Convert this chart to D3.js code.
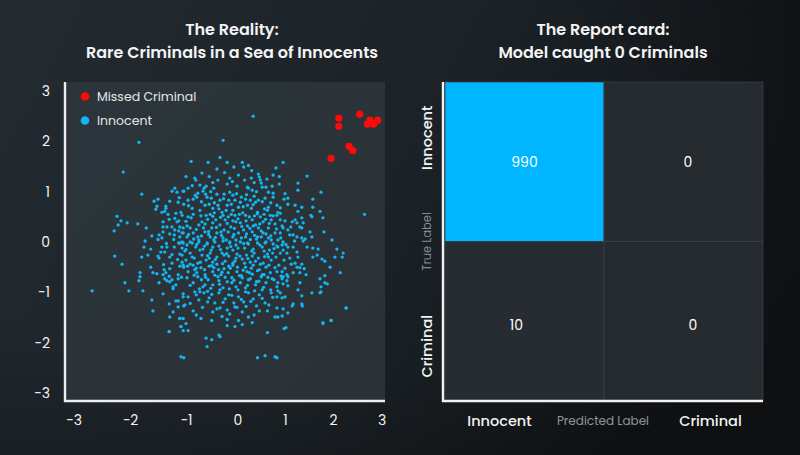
<!DOCTYPE html>
<html>
<head>
<meta charset="utf-8">
<script src="https://cdn.jsdelivr.net/npm/d3@7/dist/d3.min.js"></script>
<style>
  html, body { margin: 0; padding: 0; background: #1b2126; }
  svg { display: block; }
  text { font-family: "Poppins", "Inter", "Open Sans", sans-serif; }
</style>
</head>
<body>
<svg id="chart" width="800" height="455"></svg>
<script>
// ---------------- DATA ----------------
const xTicks = [-3, -2, -1, 0, 1, 2, 3];
const yTicks = [-3, -2, -1, 0, 1, 2, 3];

const leftTitle = ["The Reality:", "Rare Criminals in a Sea of Innocents"];
const rightTitle = ["The Report card:", "Model caught 0 Criminals"];
const legendLabels = ["Missed Criminal", "Innocent"];

// Criminals (red) – [x, y]
const criminals = [
  [2.12, 2.46], [2.12, 2.30], [2.55, 2.54], [2.76, 2.42], [2.71, 2.34],
  [2.84, 2.34], [2.92, 2.42], [2.33, 1.90], [2.41, 1.82], [1.96, 1.66]
];

// Innocents (blue) – [x, y]
const innocents = [
  [-1.84,1.98],[-2.12,1.39],[-1.79,0.95],[-1.25,1.01],[-1.20,1.07],[-1.16,0.99],[-1.05,1.01],
  [-1.57,0.81],[-1.50,0.85],[-1.29,0.81],[-1.14,0.79],[-1.36,0.71],[-1.36,0.67],[-1.38,0.61],
  [-1.52,0.71],[-1.54,0.65],[-1.43,0.59],[-1.32,0.55],[-1.18,0.57],[-1.09,0.59],[-1.04,0.75],
  [-2.23,0.51],[-2.16,0.42],[-2.05,0.38],[-2.21,0.34],[-2.28,0.22],[-1.86,0.36],[-1.71,0.28],
  [-1.41,0.40],[-1.41,0.30],[-1.34,0.30],[-1.25,0.30],[-1.16,0.40],[-1.13,0.42],[-1.11,0.30],
  [-1.20,0.24],[-1.13,0.22],[-1.07,0.18],[-1.11,0.10],[-1.07,0.00],[-1.13,-0.02],[-1.05,0.28],
  [-1.61,0.12],[-1.48,0.14],[-1.41,0.20],[-1.43,0.08],[-1.29,0.16],[-1.73,0.02],[-1.21,0.14],
  [0.33,2.50],[-0.28,2.02],[-0.90,1.60],[-0.57,1.58],[-0.34,1.68],[-0.20,1.58],[-0.07,1.49],
  [0.10,1.58],[0.13,1.49],[0.23,1.52],[0.81,1.47],[-0.69,1.37],[-0.83,1.27],[-0.81,1.23],
  [-0.38,1.23],[-0.15,1.27],[0.15,1.23],[0.29,1.27],[0.44,1.35],[0.46,1.29],[0.48,1.23],
  [0.50,1.17],[0.52,1.09],[0.75,1.33],[-0.01,1.11],[0.21,1.09],[0.23,1.07],[0.60,1.09],
  [0.73,1.11],[0.75,0.97],[0.75,0.89],[-0.61,1.11],[-0.65,1.07],[-0.67,1.01],[-0.96,1.07],
  [-1.04,1.01],[-0.77,0.97],[-0.86,0.85],[-0.79,0.89],[-0.51,0.87],[-0.40,0.95],[-0.34,0.83],
  [-0.26,0.95],[-0.15,0.99],[-0.09,0.93],[0.08,0.89],[0.17,0.85],[0.35,0.91],[0.44,0.83],
  [0.65,0.69],[0.63,0.63],[-0.73,0.63],[-0.63,0.73],[-0.55,0.75],[-0.48,0.67],[-0.38,0.73],
  [-0.30,0.59],[-0.20,0.73],[-0.17,0.83],[-0.09,0.63],[0.02,0.69],[0.06,0.79],[0.21,0.73],
  [0.29,0.67],[0.38,0.79],[0.42,0.59],[0.83,0.73],[0.85,0.59],[-0.86,0.55],[-0.96,0.50],
  [-1.07,0.53],[-0.53,0.55],[-0.48,0.51],[-0.28,0.53],[-0.18,0.50],[-0.05,0.53],[0.17,0.53],
  [0.42,0.56],[0.48,0.50],[0.69,0.53],[-0.98,0.32],[-0.92,0.28],[-0.69,0.40],[-0.63,0.36],
  [-0.48,0.38],[-0.34,0.34],[-0.24,0.44],[-0.09,0.42],[0.06,0.38],[0.21,0.32],[0.31,0.44],
  [0.38,0.34],[0.54,0.40],[0.65,0.28],[0.79,0.36],[-1.05,0.18],[-0.98,0.10],[-0.86,0.18],
  [-0.77,0.10],[-0.63,0.20],[-0.53,0.10],[-0.40,0.18],[-0.28,0.08],[-0.18,0.20],[-0.09,0.10],
  [0.02,0.18],[0.17,0.10],[0.31,0.20],[0.42,0.10],[0.54,0.18],[0.65,0.08],[0.79,0.18],
  [0.85,0.04],[-0.92,0.00],[-0.59,-0.02],[-0.15,0.00],[0.21,-0.02],[0.58,-0.02],
  [0.96,1.58],[1.46,1.31],[0.88,1.15],[1.27,1.17],[1.27,1.03],[1.75,0.99],[0.98,0.85],
  [1.06,0.87],[1.58,0.85],[1.06,0.75],[1.21,0.73],[1.35,0.69],[1.58,0.69],[0.90,0.57],
  [0.83,0.53],[1.27,0.61],[1.54,0.53],[1.56,0.50],[1.73,0.61],[1.79,0.48],[2.65,0.55],
  [0.90,0.44],[1.15,0.40],[1.21,0.44],[1.25,0.38],[1.35,0.48],[1.38,0.38],[0.94,0.32],
  [0.96,0.28],[1.06,0.24],[1.31,0.30],[1.35,0.28],[1.52,0.20],[1.81,0.20],[0.90,0.18],
  [1.10,0.14],[1.17,0.14],[1.25,0.10],[1.35,0.08],[1.42,0.06],[1.56,0.10],[1.98,0.04],
  [0.96,0.00],
  [-1.75,-0.10],[-1.63,-0.14],[-1.43,-0.10],[-1.34,-0.10],[-1.21,-0.10],[-1.11,-0.02],
  [-1.07,-0.12],[-1.45,-0.20],[-1.38,-0.20],[-2.27,-0.28],[-1.79,-0.30],[-1.68,-0.26],
  [-1.50,-0.28],[-1.48,-0.32],[-1.29,-0.30],[-1.11,-0.24],[-2.14,-0.44],[-1.63,-0.50],
  [-1.25,-0.42],[-1.07,-0.40],[-1.05,-0.46],[-1.39,-0.55],[-1.36,-0.61],[-1.41,-0.65],
  [-1.29,-0.53],[-1.11,-0.48],[-1.82,-0.61],[-1.82,-0.69],[-1.59,-0.61],[-1.52,-0.63],
  [-1.38,-0.73],[-1.34,-0.77],[-1.29,-0.79],[-1.25,-0.75],[-1.14,-0.65],[-1.14,-0.73],
  [-2.09,-0.81],[-1.84,-0.77],[-1.48,-0.81],[-1.23,-0.89],[-1.23,-0.93],[-2.67,-0.97],
  [-2.02,-0.97],[-1.77,-0.97],[-1.41,-1.03],[-1.05,-1.09],[-1.61,-1.15],[-1.18,-1.17],
  [-1.14,-1.17],[-1.30,-1.23],[-1.14,-1.29],[-1.04,-1.27],[-1.59,-1.37],[-1.23,-1.39],
  [-1.29,-1.49],[-1.11,-1.52],[-1.09,-1.68],[-1.05,-1.76],[-1.30,-1.78],[-1.09,-2.28],
  [-1.04,-2.30],
  [-1.05,-0.02],[-0.98,-0.06],[-0.88,-0.02],[-0.81,-0.10],[-0.75,0.00],[-0.67,-0.14],
  [-0.59,-0.04],[-0.51,-0.16],[-0.44,0.00],[-0.36,-0.08],[-0.28,0.02],[-0.20,-0.12],
  [-0.15,-0.02],[-0.09,-0.16],[-0.03,-0.06],[0.06,0.00],[0.15,-0.12],[0.23,-0.04],
  [0.33,-0.14],[0.42,-0.02],[0.52,-0.10],[0.60,0.00],[0.67,-0.16],[0.75,-0.04],[0.85,-0.10],
  [-1.07,-0.26],[-1.00,-0.36],[-0.92,-0.22],[-0.84,-0.32],[-0.77,-0.42],[-0.69,-0.26],
  [-0.61,-0.36],[-0.53,-0.22],[-0.48,-0.40],[-0.40,-0.30],[-0.30,-0.22],[-0.24,-0.38],
  [-0.17,-0.28],[-0.09,-0.42],[-0.01,-0.24],[0.10,-0.34],[0.19,-0.26],[0.27,-0.40],
  [0.35,-0.22],[0.44,-0.32],[0.54,-0.42],[0.63,-0.24],[0.71,-0.36],[0.81,-0.30],
  [-1.04,-0.50],[-0.96,-0.59],[-0.86,-0.46],[-0.79,-0.61],[-0.71,-0.51],[-0.63,-0.65],
  [-0.55,-0.48],[-0.48,-0.59],[-0.40,-0.44],[-0.32,-0.65],[-0.26,-0.53],[-0.18,-0.61],
  [-0.09,-0.46],[-0.01,-0.59],[0.08,-0.67],[0.17,-0.50],[0.25,-0.61],[0.33,-0.46],
  [0.42,-0.57],[0.52,-0.65],[0.60,-0.50],[0.69,-0.61],[0.79,-0.51],
  [-0.98,-0.71],[-0.86,-0.81],[-0.77,-0.69],[-0.67,-0.89],[-0.57,-0.75],[-0.48,-0.85],
  [-0.38,-0.69],[-0.28,-0.91],[-0.20,-0.79],[-0.11,-0.71],[-0.03,-0.89],[0.06,-0.81],
  [0.17,-0.91],[0.27,-0.73],[0.38,-0.85],[0.50,-0.69],[0.60,-0.81],[0.73,-0.73],[0.83,-0.89],
  [-1.05,-1.03],[-0.96,-1.09],[-0.83,-0.99],[-0.75,-1.15],[-0.65,-1.01],[-0.55,-1.11],
  [-0.44,-1.21],[-0.36,-1.01],[-0.24,-1.13],[-0.17,-1.05],[-0.07,-1.21],[0.02,-1.09],
  [0.13,-1.19],[0.23,-1.01],[0.33,-1.13],[0.46,-1.05],[0.58,-1.21],[0.71,-1.01],[0.83,-1.09],
  [-1.02,-1.25],[-0.86,-1.37],[-0.71,-1.52],[-0.48,-1.39],[-0.34,-1.31],[-0.15,-1.43],
  [-0.05,-1.29],[0.10,-1.39],[0.23,-1.49],[0.46,-1.37],[0.63,-1.37],[0.79,-1.49],
  [-1.05,-1.52],[-0.50,-1.56],[-0.20,-1.54],[0.02,-1.56],[0.31,-1.60],
  [-1.00,-1.62],[-0.96,-1.76],[-0.34,-1.88],[-0.50,-1.94],[-0.59,-2.08],[0.63,-1.80],
  [0.42,-2.30],[0.58,-2.26],[0.79,-2.28],[-0.05,-1.68],[0.10,-1.64],[-0.20,-1.66],
  [0.83,-0.08],[0.94,-0.06],[0.96,-0.16],[0.90,-0.22],[1.04,-0.22],[1.06,-0.10],[1.17,-0.10],
  [1.25,-0.20],[1.27,-0.30],[1.10,-0.32],[0.98,-0.36],[1.38,0.02],[1.46,-0.10],[1.58,-0.12],
  [1.69,-0.14],[1.67,-0.26],[1.58,-0.30],[1.77,-0.34],[1.83,-0.38],[2.08,-0.14],[2.21,-0.22],
  [2.04,-0.30],[2.19,-0.30],[1.94,-0.50],[2.15,-0.61],[0.83,-0.59],[0.94,-0.59],[1.04,-0.65],
  [0.96,-0.69],[1.06,-0.69],[0.94,-0.73],[1.04,-0.77],[1.13,-0.44],[1.21,-0.42],[1.25,-0.50],
  [1.35,-0.44],[1.31,-0.51],[1.40,-0.53],[1.44,-0.65],[1.31,-0.61],[1.17,-0.61],[0.85,-0.81],
  [0.96,-0.83],[1.06,-0.87],[0.85,-0.97],[0.90,-1.01],[1.00,-1.09],[0.94,-1.11],[0.83,-1.31],
  [0.96,-1.33],[1.06,-1.41],[0.85,-1.49],[0.94,-1.47],[1.17,-1.23],[1.15,-1.27],[1.35,-1.23],
  [1.36,-1.27],[1.27,-0.95],[1.31,-0.81],[1.35,-1.07],[1.56,-1.01],[1.73,-0.73],[1.83,-0.67],
  [1.75,-0.89],[1.83,-0.81],[1.88,-0.83],[1.73,-1.01],[1.75,-0.99],[2.27,-1.31],[1.96,-1.56],
  [1.79,-1.62],[1.02,-1.70],[0.83,-2.30],
  [-0.88,0.67],[-0.75,0.34],[-0.61,0.53],[-0.50,0.28],[-0.42,0.44],[-0.32,0.20],[-0.22,0.63],
  [-0.13,0.30],[-0.03,0.40],[0.04,0.55],[0.13,0.24],[0.25,0.50],[0.33,0.32],[0.44,0.28],
  [0.56,0.55],[0.60,0.16],[0.71,0.44],[-0.75,0.04],[-0.46,0.04],[-0.03,0.04],[0.40,0.06],
  [0.71,0.04],
  [-1.02,-0.18],[-0.92,-0.44],[-0.83,-0.55],[-0.73,-0.16],[-0.63,-0.85],[-0.55,-0.32],
  [-0.46,-0.51],[-0.36,-0.77],[-0.26,-0.26],[-0.17,-0.48],[-0.11,-0.81],[-0.03,-0.32],
  [0.04,-0.67],[0.15,-0.42],[0.23,-0.75],[0.31,-0.28],[0.40,-0.79],[0.48,-0.44],[0.56,-0.65],
  [0.65,-0.30],[0.77,-0.75],[-0.34,-0.95],[-0.73,-0.99],[0.17,-0.99],[0.52,-0.95],
  [-0.73,1.13],[-0.46,1.07],[-0.20,1.15],[-0.05,0.83],[0.31,1.03],[0.58,0.87],[-0.96,0.83],
  [-0.59,0.89],[0.27,0.83],[0.65,0.99],
  [-1.09,-1.68],[-0.61,-1.91],[-0.36,-1.85],[0.98,-1.72],[1.79,-1.60],[1.96,-1.56],
  [2.27,-1.31],[-1.30,-1.78],[-1.11,-1.52],
  // dense core, second pass
  [-0.95,0.72],[-0.82,0.93],[-0.70,0.80],[-0.62,0.95],[-0.45,0.78],[-0.36,0.66],[-0.27,0.86],
  [-0.12,0.75],[-0.02,0.96],[0.12,0.70],[0.19,0.94],[0.33,0.74],[0.52,0.80],[0.57,0.66],
  [0.70,0.78],[0.90,0.68],[1.00,0.96],[-1.12,0.88],[-0.52,1.00],[0.40,1.00],
  [-1.20,0.47],[-1.00,0.41],[-0.90,0.48],[-0.80,0.25],[-0.71,0.52],[-0.66,0.28],[-0.58,0.45],
  [-0.45,0.58],[-0.41,0.29],[-0.33,0.49],[-0.26,0.24],[-0.20,0.37],[-0.12,0.55],[-0.06,0.27],
  [0.01,0.46],[0.09,0.31],[0.11,0.58],[0.18,0.42],[0.26,0.27],[0.36,0.52],[0.47,0.36],
  [0.50,0.22],[0.59,0.45],[0.67,0.37],[0.75,0.52],[0.82,0.26],[1.00,0.42],[1.12,0.30],
  [-1.30,0.45],[-0.56,0.21],
  [-1.22,0.05],[-1.00,-0.15],[-0.95,0.15],[-0.85,0.06],[-0.79,-0.05],[-0.70,0.12],[-0.64,-0.08],
  [-0.56,0.15],[-0.48,-0.10],[-0.43,0.09],[-0.33,-0.15],[-0.31,0.13],[-0.22,0.04],[-0.13,-0.09],
  [-0.07,0.15],[0.01,-0.12],[0.08,0.08],[0.13,-0.03],[0.19,0.16],[0.27,0.05],[0.30,-0.18],
  [0.36,0.13],[0.47,-0.06],[0.50,0.10],[0.56,-0.18],[0.70,0.12],[0.77,-0.13],[0.91,0.08],
  [1.02,-0.05],[-1.35,-0.03],[-1.50,0.05],[1.20,0.02],
  [-1.25,-0.25],[-1.15,-0.35],[-0.97,-0.48],[-0.88,-0.30],[-0.80,-0.52],[-0.72,-0.40],
  [-0.64,-0.55],[-0.58,-0.27],[-0.50,-0.47],[-0.43,-0.35],[-0.37,-0.55],[-0.29,-0.43],
  [-0.21,-0.23],[-0.14,-0.52],[-0.05,-0.38],[0.00,-0.50],[0.05,-0.28],[0.12,-0.56],
  [0.22,-0.33],[0.29,-0.52],[0.38,-0.38],[0.46,-0.55],[0.57,-0.29],[0.66,-0.46],[0.74,-0.22],
  [0.87,-0.46],[1.00,-0.52],[-1.40,-0.45],[-0.30,-0.60],[0.20,-0.59],
  [-1.18,-0.85],[-1.08,-0.70],[-0.92,-0.86],[-0.84,-0.66],[-0.74,-0.93],[-0.70,-0.75],
  [-0.62,-0.70],[-0.52,-0.92],[-0.44,-0.66],[-0.35,-0.84],[-0.24,-0.70],[-0.16,-0.93],
  [-0.07,-0.76],[0.01,-0.95],[0.10,-0.71],[0.21,-0.86],[0.31,-0.64],[0.36,-0.97],[0.45,-0.78],
  [0.55,-0.90],[0.64,-0.70],[0.70,-0.95],[0.92,-0.68],[-1.30,-0.68],[-0.58,-0.98],
  [-0.92,-1.22],[-0.80,-1.05],[-0.68,-1.30],[-0.58,-1.19],[-0.50,-1.04],[-0.40,-1.33],
  [-0.28,-1.20],[-0.20,-1.35],[-0.11,-1.06],[-0.01,-1.30],[0.08,-1.14],[0.18,-1.28],
  [0.28,-1.18],[0.40,-1.27],[0.52,-1.12],[0.66,-1.25],[0.74,-1.10],[-0.30,-1.48],[0.35,-1.45],
  [-0.80,-1.45],
  [-0.88,1.12],[-0.55,1.30],[-0.48,1.18],[-0.25,1.38],[-0.10,1.20],[0.02,1.33],[0.35,1.18],
  [0.62,1.25],[0.88,1.30],[-1.00,1.30],[-0.40,1.45],[0.30,1.42]
];

// Confusion matrix
const cmRows = ["Innocent", "Criminal"];   // true label
const cmCols = ["Innocent", "Criminal"];   // predicted label
const cmValues = [[990, 0], [10, 0]];

// ---------------- DRAW ----------------
const svg = d3.select("#chart");
const W = 800, H = 455;
const defs = svg.append("defs");

const bg = defs.append("linearGradient").attr("id", "bg")
  .attr("x1", "0%").attr("y1", "0%").attr("x2", "100%").attr("y2", "30%");
bg.append("stop").attr("offset", "0%").attr("stop-color", "#232b31");
bg.append("stop").attr("offset", "55%").attr("stop-color", "#1c2227");
bg.append("stop").attr("offset", "100%").attr("stop-color", "#121518");
svg.append("rect").attr("width", W).attr("height", H).attr("fill", "url(#bg)");

const vig = defs.append("radialGradient").attr("id", "vig")
  .attr("cx", "35%").attr("cy", "35%").attr("r", "80%");
vig.append("stop").attr("offset", "60%").attr("stop-color", "#000").attr("stop-opacity", 0);
vig.append("stop").attr("offset", "100%").attr("stop-color", "#000").attr("stop-opacity", 0.25);
svg.append("rect").attr("width", W).attr("height", H).attr("fill", "url(#vig)");

// ---------- Left: scatter ----------
const sp = { left: 65, right: 385, top: 82, bottom: 401 };
const x = d3.scaleLinear().domain(xTicks).range([73.5, 130, 186, 237.5, 285, 333, 381.5]);
const y = d3.scaleLinear().domain([-3, 3]).range([393, 91]);

const plotGrad = defs.append("linearGradient").attr("id", "plotbg")
  .attr("x1", "0%").attr("y1", "0%").attr("x2", "100%").attr("y2", "100%");
plotGrad.append("stop").attr("offset", "0%").attr("stop-color", "#2c353b");
plotGrad.append("stop").attr("offset", "100%").attr("stop-color", "#2a3237");
svg.append("rect")
  .attr("x", sp.left).attr("y", sp.top)
  .attr("width", sp.right - sp.left).attr("height", sp.bottom - sp.top)
  .attr("fill", "url(#plotbg)");

const gL = svg.append("g");
gL.selectAll("circle.inn").data(innocents).join("circle")
  .attr("class", "inn")
  .attr("cx", d => x(d[0])).attr("cy", d => y(d[1]))
  .attr("r", 1.65).attr("fill", "#12b6f2");
gL.selectAll("circle.crim").data(criminals).join("circle")
  .attr("class", "crim")
  .attr("cx", d => x(d[0])).attr("cy", d => y(d[1]))
  .attr("r", 3.6).attr("fill", "#ff0a0a");

// axes
const xAxis = d3.axisBottom(x).tickValues(xTicks).tickSize(0).tickPadding(14)
  .tickFormat(d => d < 0 ? "\u2212" + Math.abs(d) : d);
const gx = svg.append("g").attr("transform", `translate(0,${sp.bottom})`).call(xAxis);
gx.select(".domain").remove();
gx.selectAll("text").attr("fill", "#f2f2f2").attr("font-size", 14).attr("font-family", "Inter, sans-serif");

const yAxis = d3.axisLeft(y).tickValues(yTicks).tickSize(0).tickPadding(15)
  .tickFormat(d => d < 0 ? "\u2212" + Math.abs(d) : d);
const gy = svg.append("g").attr("transform", `translate(${sp.left},0)`).call(yAxis);
gy.select(".domain").remove();
gy.selectAll("text").attr("fill", "#f2f2f2").attr("font-size", 14).attr("font-family", "Inter, sans-serif");

svg.append("line").attr("x1", sp.left).attr("x2", sp.left).attr("y1", sp.top).attr("y2", sp.bottom + 1)
  .attr("stroke", "#eeeeee").attr("stroke-width", 2.4);
svg.append("line").attr("x1", sp.left - 1).attr("x2", sp.right).attr("y1", sp.bottom).attr("y2", sp.bottom)
  .attr("stroke", "#eeeeee").attr("stroke-width", 2.4);

// legend
const legColors = ["#ff0a0a", "#12b6f2"];
const leg = svg.append("g").attr("transform", "translate(85,96.5)");
legendLabels.forEach((t, i) => {
  const g = leg.append("g").attr("transform", `translate(0,${i * 24})`);
  g.append("circle").attr("r", 4.3).attr("fill", legColors[i]);
  g.append("text").attr("x", 12).attr("dy", "0.35em").attr("fill", "#e8e8e8")
    .attr("font-size", 12.5).attr("font-family", "Inter, sans-serif").text(t);
});

// title
leftTitle.forEach((t, i) => {
  svg.append("text").attr("x", 232).attr("y", 35 + i * 23).attr("text-anchor", "middle")
    .attr("fill", "#f4f4f4").attr("font-size", 16).attr("font-weight", 600)
    .attr("font-family", "Inter, sans-serif").text(t);
});

// ---------- Right: confusion matrix ----------
const cm = { left: 443, right: 763, top: 82, bottom: 401 };
const cx = d3.scaleBand().domain(cmCols).range([cm.left + 2, cm.right]);
const cy = d3.scaleBand().domain(cmRows).range([cm.top, cm.bottom]);
const color = d3.scaleLinear().domain([0, 990]).range(["#262b30", "#00b6ff"]);

// small label nudges inside each cell, as in the reference
const labelDx = [[0, 4.5], [-8, 9.5]];
const labelDy = [[0, 0], [3.5, 3.5]];

const cells = [];
cmRows.forEach((r, i) => cmCols.forEach((c, j) =>
  cells.push({ r, c, v: cmValues[i][j], dx: labelDx[i][j], dy: labelDy[i][j] })));

const gR = svg.append("g");
gR.selectAll("rect.cell").data(cells).join("rect")
  .attr("class", "cell")
  .attr("x", d => cx(d.c)).attr("y", d => cy(d.r))
  .attr("width", cx.bandwidth()).attr("height", cy.bandwidth())
  .attr("fill", d => color(d.v))
  .attr("stroke", "#3a4046").attr("stroke-width", 0.8);

gR.selectAll("text.val").data(cells).join("text")
  .attr("class", "val")
  .attr("x", d => cx(d.c) + cx.bandwidth() / 2 + d.dx)
  .attr("y", d => cy(d.r) + cy.bandwidth() / 2 + d.dy)
  .attr("text-anchor", "middle").attr("dy", "0.35em")
  .attr("fill", "#ffffff").attr("font-size", 14).attr("font-family", "Inter, sans-serif")
  .text(d => d.v);

svg.append("line").attr("x1", cm.left).attr("x2", cm.left).attr("y1", cm.top).attr("y2", cm.bottom + 1)
  .attr("stroke", "#f2f2f2").attr("stroke-width", 2.4);
svg.append("line").attr("x1", cm.left - 1).attr("x2", cm.right).attr("y1", cm.bottom).attr("y2", cm.bottom)
  .attr("stroke", "#f2f2f2").attr("stroke-width", 2.4);

// tick labels
const colOffset = [-25, 27];
cmCols.forEach((c, j) => {
  svg.append("text").attr("x", cx(c) + cx.bandwidth() / 2 + colOffset[j]).attr("y", 426)
    .attr("text-anchor", "middle").attr("fill", "#f4f4f4").attr("font-size", 14.5)
    .attr("font-weight", 500).attr("font-family", "Inter, sans-serif").text(c);
});
const rowOffset = [-24, 25];
cmRows.forEach((r, i) => {
  const yy = cy(r) + cy.bandwidth() / 2 + rowOffset[i];
  svg.append("text").attr("transform", `translate(427,${yy}) rotate(-90)`)
    .attr("text-anchor", "middle").attr("dy", "0.35em").attr("fill", "#f4f4f4")
    .attr("font-size", 14.5).attr("font-weight", 500).attr("font-family", "Inter, sans-serif").text(r);
});
svg.append("text").attr("x", (cm.left + cm.right) / 2).attr("y", 425).attr("text-anchor", "middle")
  .attr("fill", "#90959a").attr("font-size", 12).attr("font-family", "Inter, sans-serif").text("Predicted Label");
svg.append("text").attr("transform", `translate(427,${(cm.top + cm.bottom) / 2}) rotate(-90)`)
  .attr("text-anchor", "middle").attr("dy", "0.35em")
  .attr("fill", "#868b90").attr("font-size", 11.5).attr("font-family", "Inter, sans-serif").text("True Label");

rightTitle.forEach((t, i) => {
  svg.append("text").attr("x", 603).attr("y", 35 + i * 23).attr("text-anchor", "middle")
    .attr("fill", "#f4f4f4").attr("font-size", 16).attr("font-weight", 600)
    .attr("font-family", "Inter, sans-serif").text(t);
});
</script>
</body>
</html>
